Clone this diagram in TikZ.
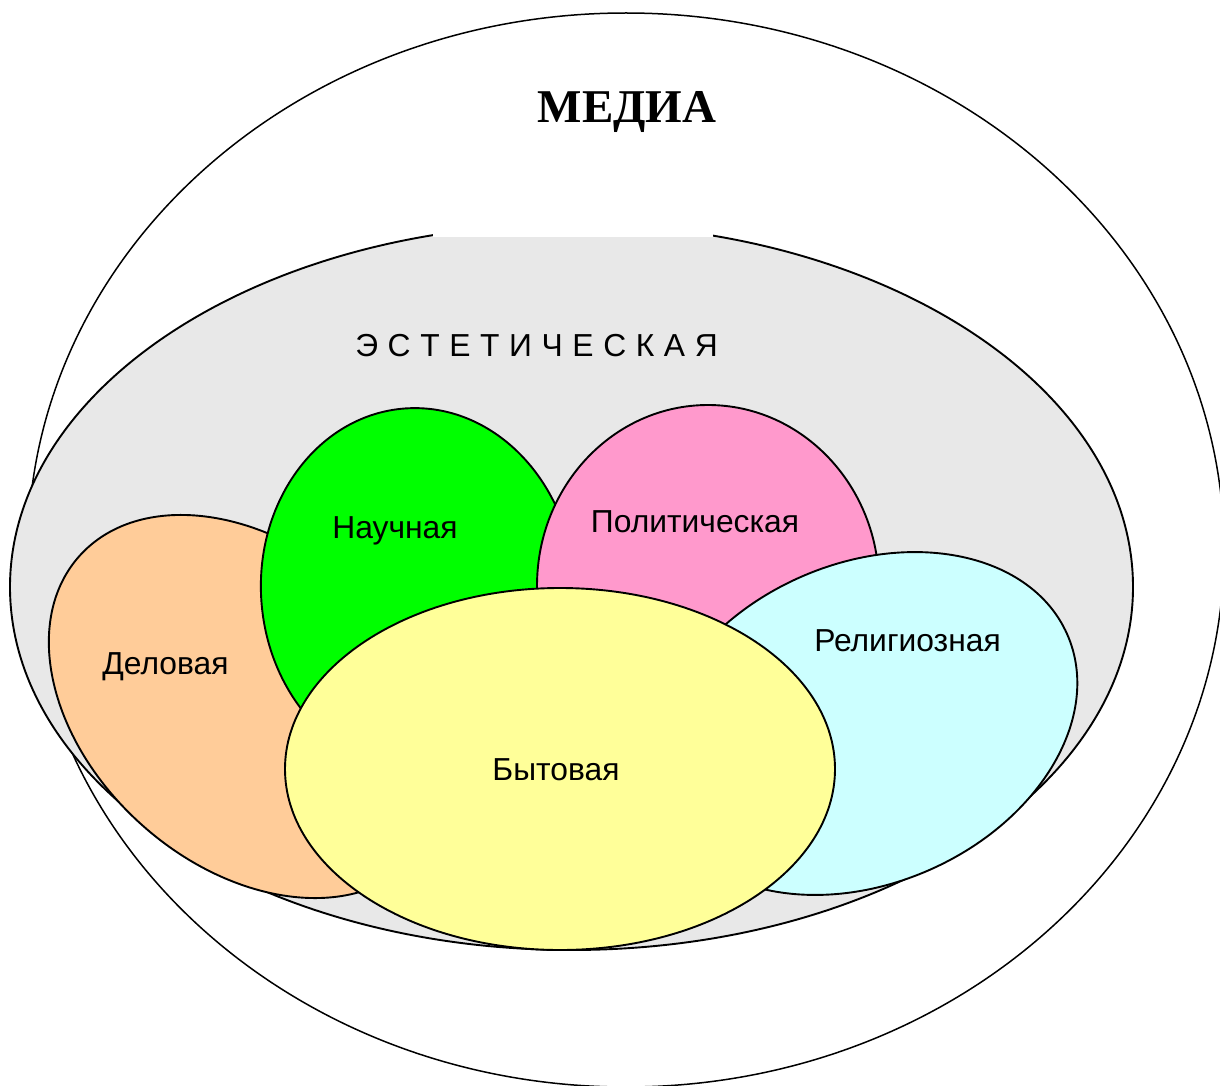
\documentclass[tikz,border=0pt]{standalone}
\usepackage{fontspec}
\setmainfont{Liberation Sans}
\newfontfamily\titlefont{Liberation Serif}

\definecolor{aestgray}{HTML}{E8E8E8}
\definecolor{delpeach}{HTML}{FFCC99}
\definecolor{naugreen}{HTML}{00FF00}
\definecolor{polpink}{HTML}{FF99CC}
\definecolor{relcyan}{HTML}{CCFFFF}
\definecolor{bytyellow}{HTML}{FFFF99}

\begin{document}
\begin{tikzpicture}
            [x=1pt, y=-1pt,
             blob/.style={draw=black, line width=1.9pt},
             lbl/.style={font=\fontsize{31.8}{36}\selectfont, inner sep=0pt, anchor=base}]
            \useasboundingbox (0,0) rectangle (1220,1086);
            \clip (0,0) rectangle (1220,1086);

            % outer field and the aesthetic one
            \draw[line width=1.5pt] (626,550) ellipse [x radius=598pt, y radius=537pt];
            \draw[blob, fill=aestgray] (571.5,587) ellipse [x radius=561.5pt, y radius=363pt];
            \fill[white] (433,140) rectangle (713,236.5);

            % the five styles
            \draw[blob, fill=delpeach, rotate around={-41.7:(248,706.5)}] (248,706.5) ellipse [x radius=226pt, y radius=159pt];
            \draw[blob, fill=naugreen, rotate around={4:(418,590)}] (418,590) ellipse [x radius=157pt, y radius=182pt];
            \draw[blob, fill=polpink] (708,586) ellipse [x radius=171pt, y radius=181pt];
            \draw[blob, fill=relcyan, rotate around={23.8:(865,723.5)}] (865,723.5) ellipse [x radius=221pt, y radius=160pt];
            \draw[blob, fill=bytyellow] (560,769) ellipse [x radius=275pt, y radius=181pt];

            \node[inner sep=0pt, anchor=base, font=\titlefont\bfseries\fontsize{47}{52}\selectfont] (media) at (627,123) {МЕДИА};
            \node[lbl] (aest) at (536.5,356) {\spaceskip=9.6pt Э С Т Е Т И Ч Е С К А Я};
            \node[lbl] (delov) at (165.5,674) {Деловая};
            \node[lbl] (nauch) at (395,538) {Научная};
            \node[lbl] (polit) at (695,532) {Политическая};
            \node[lbl] (relig) at (907.5,651) {Религиозная};
            \node[lbl] (byt) at (556,780) {Бытовая};
        \end{tikzpicture}
\end{document}
